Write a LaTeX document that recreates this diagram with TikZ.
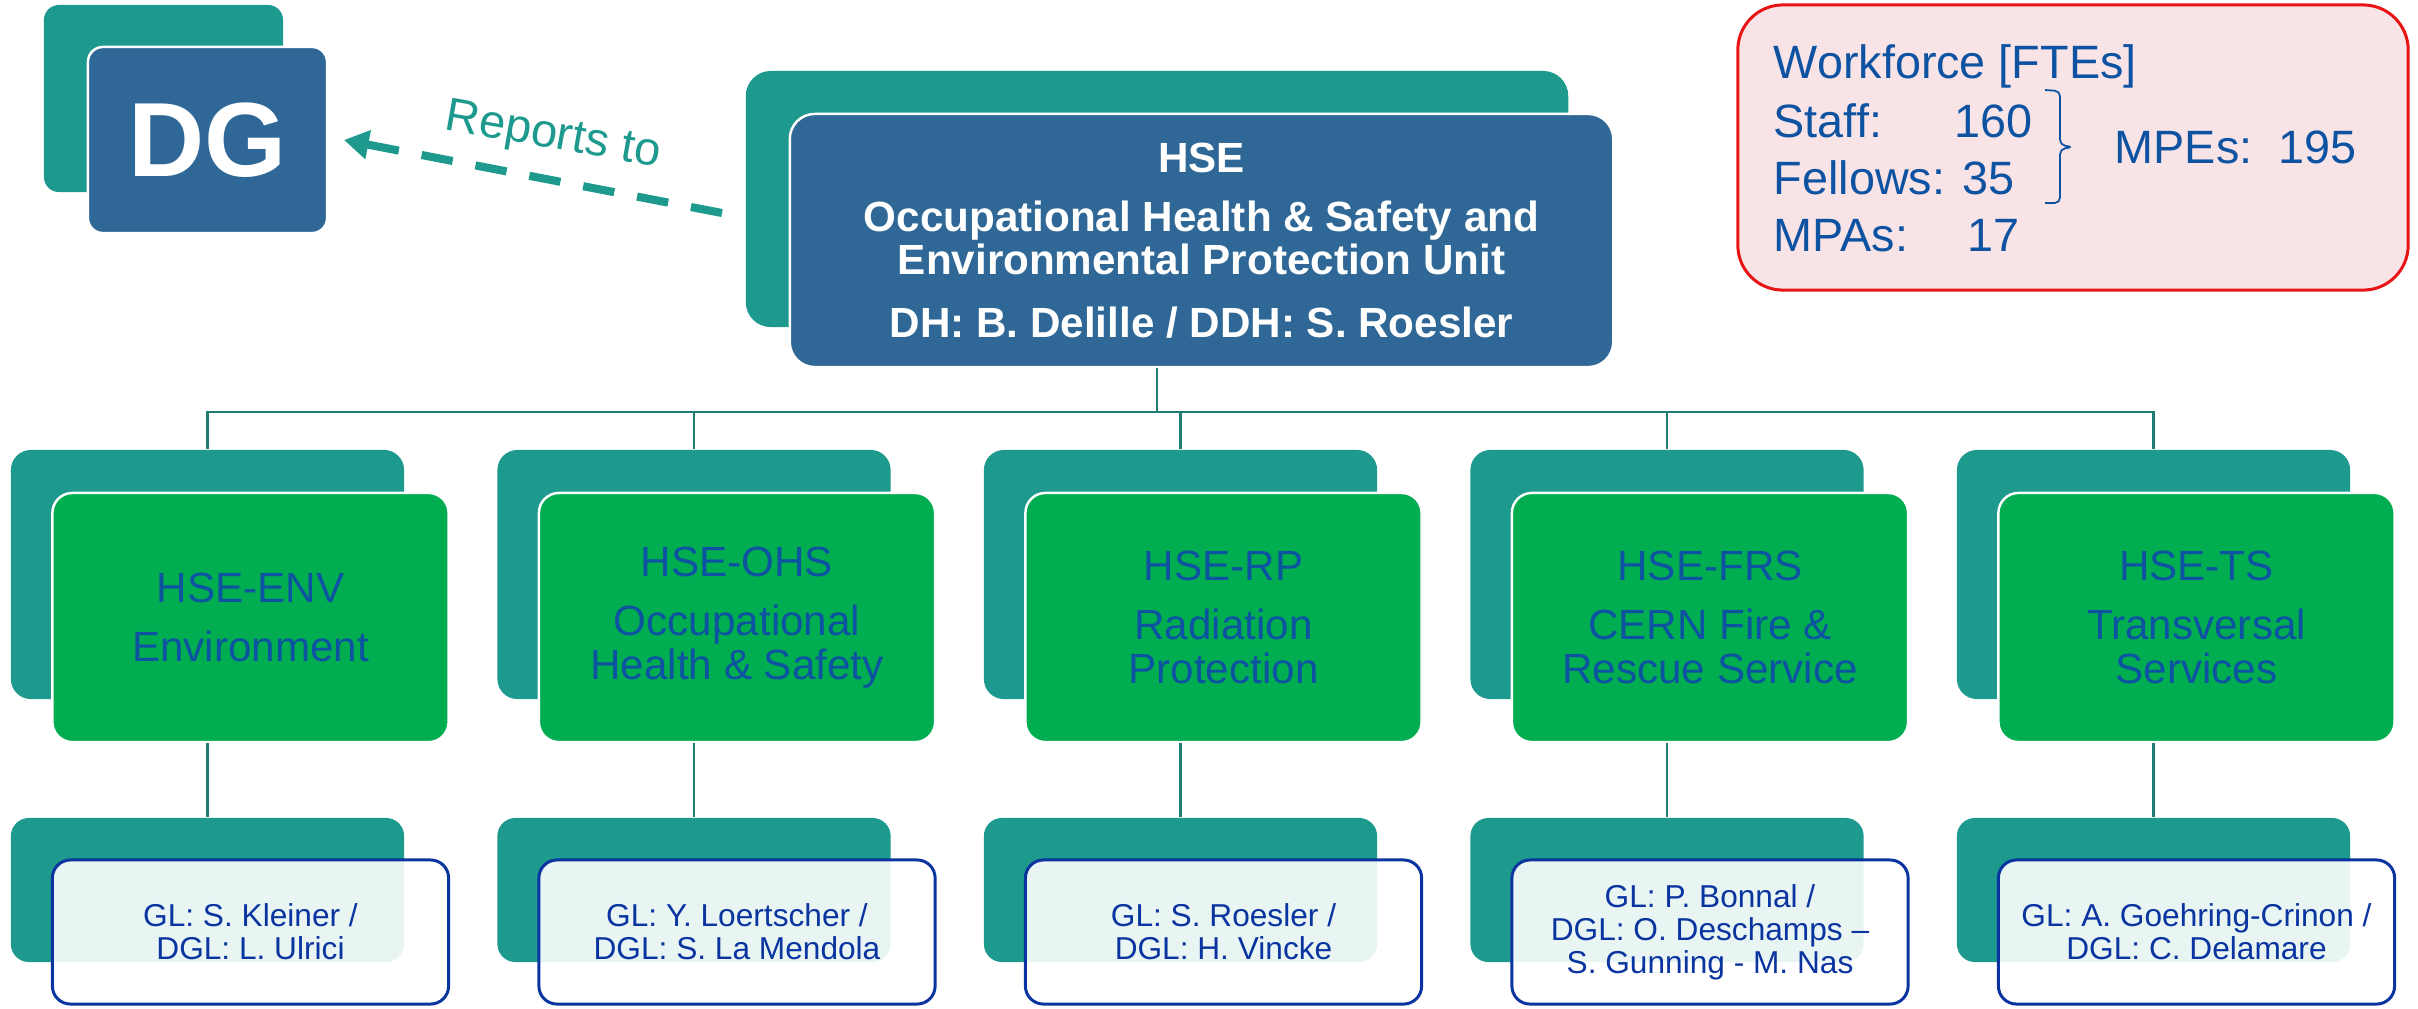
\documentclass[tikz,border=0pt]{standalone}
\usepackage{fontspec}
\setmainfont{Liberation Sans}
\usetikzlibrary{arrows.meta}

\definecolor{hseteal}{RGB}{29,154,141}
\definecolor{hseblue}{RGB}{47,104,150}
\definecolor{hsegreen}{RGB}{0,173,80}
\definecolor{hsetext}{RGB}{14,82,162}
\definecolor{hseline}{RGB}{30,125,113}
\definecolor{glblue}{RGB}{10,52,160}
\definecolor{wfpink}{RGB}{248,228,230}
\definecolor{wfred}{RGB}{232,20,20}

\newcommand\ux{486.5}
\newcommand\off{43}

\begin{document}
\begin{tikzpicture}[x=0.01cm,y=-0.01cm,
    backbox/.style={fill=hseteal,inner sep=0pt,rounded corners=2mm},
    frontbox/.style={draw=white,line width=0.7pt,inner sep=0pt,rounded corners=2mm,align=center},
    glbox/.style={draw=glblue,line width=0.85pt,fill=white,fill opacity=0.9,text opacity=1,
      inner sep=0pt,rounded corners=1.8mm,align=center,text=glblue,
      minimum width=3.96cm,minimum height=1.44cm,font=\fontsize{9pt}{9.4pt}\selectfont},
    wftext/.style={anchor=base west,inner sep=0pt,text=hsetext,font=\fontsize{13.3pt}{14pt}\selectfont},
    conn/.style={draw=hseline,line width=0.75pt}]
  \useasboundingbox (0,0) rectangle (2418,1008);

  % DG and HSE
  \node[backbox,minimum width=2.39cm,minimum height=1.87cm,rounded corners=1.5mm] (dgb) at (163.5,98.5) {};
  \node[frontbox,fill=hseblue,minimum width=2.39cm,minimum height=1.86cm,rounded corners=1.5mm,
    text=white,font=\bfseries\fontsize{30pt}{31pt}\selectfont] (dgf) at (207.5,140) {DG};
  \node[backbox,minimum width=8.22cm,minimum height=2.56cm,rounded corners=2.5mm] (hseb) at (1157,199) {};
  \node[frontbox,fill=hseblue,minimum width=8.23cm,minimum height=2.53cm,rounded corners=2.5mm,
    text=white,font=\bfseries\fontsize{12pt}{12.2pt}\selectfont] (hsef) at (1201.5,240.5)
    {HSE\\[4.8pt]Occupational Health \& Safety and\\Environmental Protection Unit\\[5.7pt]DH: B. Delille / DDH: S. Roesler};

  \coordinate (rpt) at (722,213);
  \coordinate (dgtip) at (344,140);
  \draw[hseteal,line width=2.3pt,dash pattern=on 9pt off 6.6pt,-{Triangle[length=7pt,width=8pt]}] (rpt) -- (dgtip);
  \node[text=hseteal,rotate=-10,font=\fontsize{13.4pt}{14pt}\selectfont] (rptlbl) at (553,137) {Reports to};

  \coordinate (bus) at (0,412);
  \foreach \i/\unit/\ttl/\gl in {
      1/ENV/Environment/{GL: S. Kleiner /\\DGL: L. Ulrici},
      2/OHS/{Occupational\\Health \& Safety}/{GL: Y. Loertscher /\\DGL: S. La Mendola},
      3/RP/{Radiation\\Protection}/{GL: S. Roesler /\\DGL: H. Vincke},
      4/FRS/{CERN Fire \&\\Rescue Service}/{GL: P. Bonnal /\\DGL: O. Deschamps --\\S. Gunning - M. Nas},
      5/TS/{Transversal\\Services}/{GL: A. Goehring-Crinon /\\DGL: C. Delamare}}{
    \node[backbox,minimum width=3.93cm,minimum height=2.49cm] (ub\i) at ({207.5+(\i-1)*\ux},574.5) {};
    \node[frontbox,fill=hsegreen,minimum width=3.96cm,minimum height=2.49cm,text=hsetext,
      font=\fontsize{12pt}{12.5pt}\selectfont] (uf\i) at ({207.5+\off+(\i-1)*\ux},617.5) {HSE-\unit\\[4.3pt]\ttl};
    \node[backbox,minimum width=3.93cm,minimum height=1.44cm,rounded corners=1.8mm] (gb\i) at ({207.5+(\i-1)*\ux},890) {};
    \node[glbox] (gf\i) at ({207.5+\off+(\i-1)*\ux},932) {\gl};
    \draw[conn] (ub\i.south |- uf\i.south) -- (gb\i.north);
    \draw[conn] (hseb.south |- hsef.south) -- (hseb.south |- bus) -| (ub\i.north);
  }

  % workforce
  \node[draw=wfred,line width=0.85pt,fill=wfpink,rounded corners=4.5mm,
    minimum width=6.7cm,minimum height=2.85cm] (wf) at (2073,147.5) {};
  \node[wftext] (wfttl) at (1773,78) {Workforce [FTEs]};
  \node[wftext] (wfstaff) at (1773,137) {Staff:};
  \node[wftext] (wfstaffn) at (1954,137) {160};
  \node[wftext] (wffel) at (1773,194) {Fellows: 35};
  \node[wftext] (wfmpa) at (1773,251) {MPAs:};
  \node[wftext] (wfmpan) at (1967,251) {17};
  \draw[hsetext,line width=0.5pt,rounded corners=1.5pt]
    (2045,90) -- (2060,91) -- (2060,145) -- (2073,147) -- (2060,149) -- (2060,203) -- (2045,203);
  \node[wftext] (wfmpe) at (2114,163) {MPEs:\ \ 195};
\end{tikzpicture}
\end{document}
